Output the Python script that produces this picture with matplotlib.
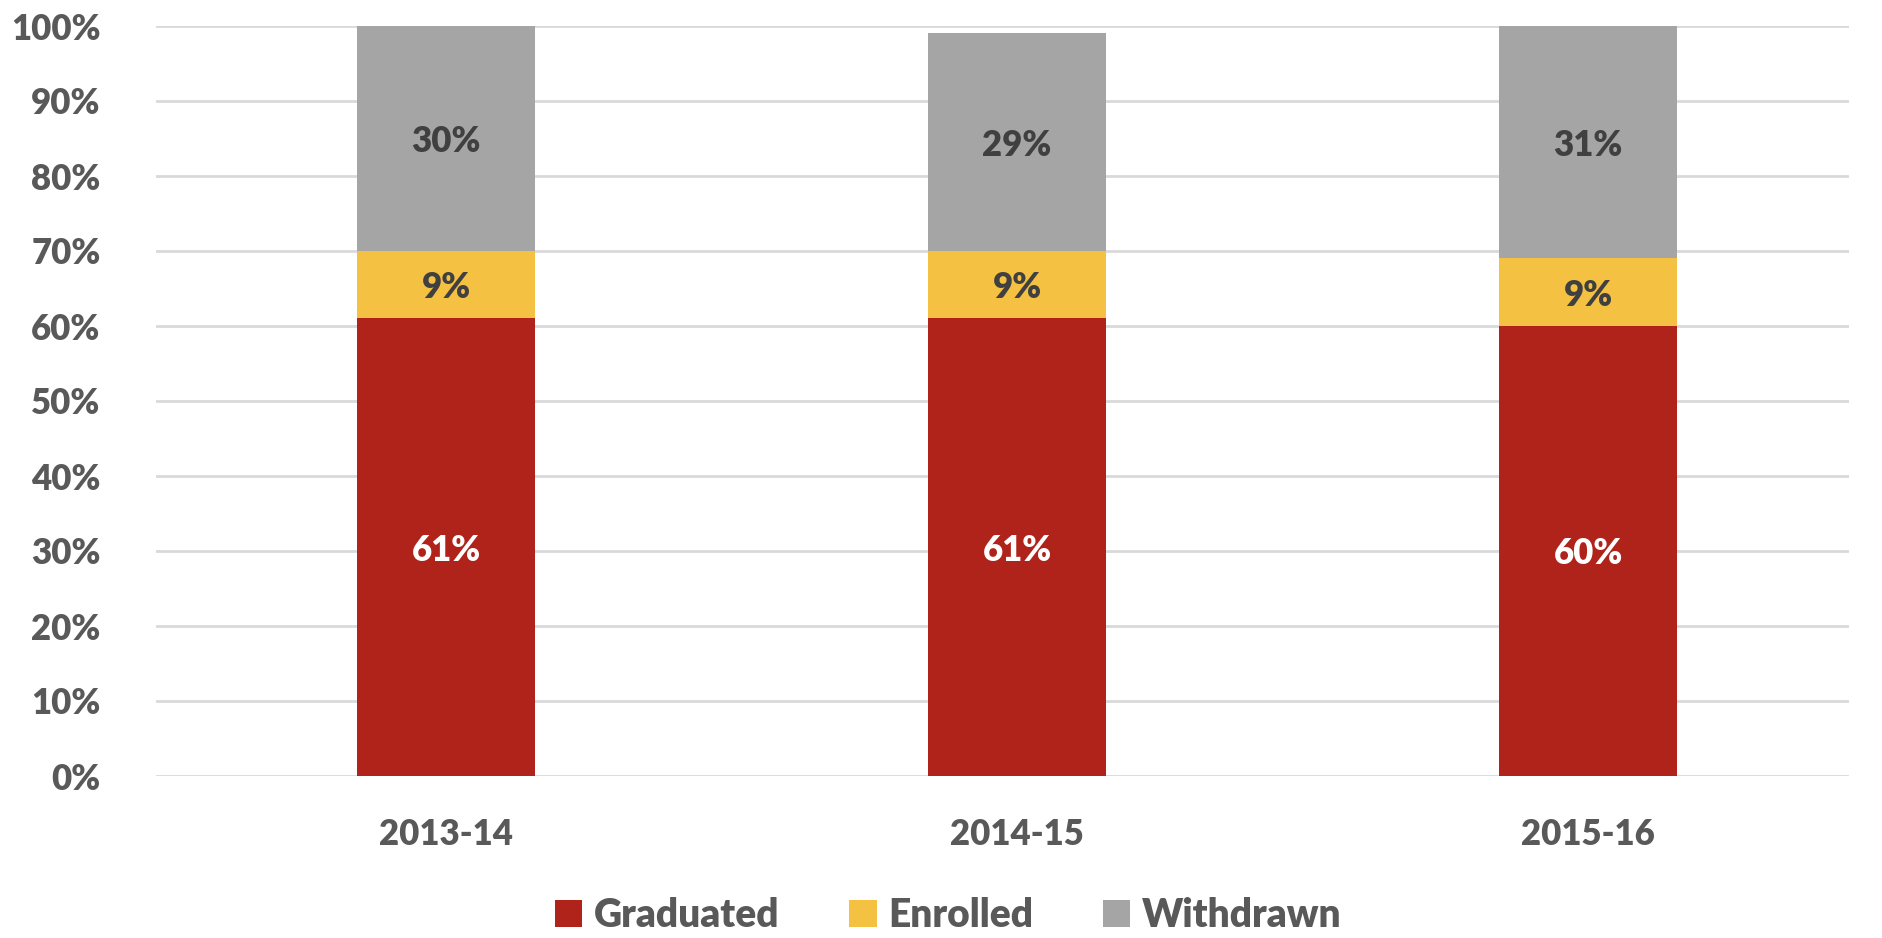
import matplotlib.pyplot as plt

# Share of each cohort by outcome (percent)
years = ['2013-14', '2014-15', '2015-16']
graduated = [61, 61, 60]
enrolled = [9, 9, 9]
withdrawn = [30, 29, 31]

series = ['Graduated', 'Enrolled', 'Withdrawn']
colors = ['#B0231A', '#F4C143', '#A5A5A5']
label_colors = ['white', '#404040', '#404040']

plt.rcParams['font.family'] = ['Lato', 'DejaVu Sans']
W = 'heavy'
FS = 25

fig = plt.figure(figsize=(18.83, 9.38), dpi=100)
ax = fig.add_axes([156 / 1883, 1 - 776 / 938, (1849 - 156) / 1883, (776 - 26) / 938])

x = list(range(len(years)))
bottom = [0] * len(years)
for name, vals, col, lc in zip(series, [graduated, enrolled, withdrawn], colors, label_colors):
    bars = ax.bar(x, vals, width=0.313, bottom=bottom, color=col, label=name, zorder=3)
    for b, v, base in zip(bars, vals, bottom):
        ax.text(b.get_x() + b.get_width() / 2, base + v / 2, f'{v}%',
                ha='center', va='center_baseline', color=lc, fontsize=FS, fontweight=W, zorder=4)
    bottom = [a + b for a, b in zip(bottom, vals)]

# Axes styling
ax.set_xlim(-0.508, 2.457)
ax.set_ylim(0, 100)
ax.set_yticks(range(0, 101, 10))
ax.set_yticklabels([f'{t}%' for t in range(0, 101, 10)])
ax.set_xticks(x)
ax.set_xticklabels(years)
ax.tick_params(axis='both', length=0, labelsize=FS, colors='#595959')
ax.tick_params(axis='y', pad=40)
ax.tick_params(axis='x', pad=30)
for lbl in ax.get_yticklabels() + ax.get_xticklabels():
    lbl.set_fontweight(W)
ax.grid(axis='y', color='#D9D9D9', linewidth=2, zorder=0)
for s in ax.spines.values():
    s.set_visible(False)

ax.legend(loc='center', bbox_to_anchor=(0.468, -0.186), ncol=3, frameon=False,
          prop={'size': 28, 'weight': W}, labelcolor='#595959',
          handlelength=0.7, handleheight=0.7, handletextpad=0.3, columnspacing=1.8)

fig.savefig('out.png', dpi=100)
